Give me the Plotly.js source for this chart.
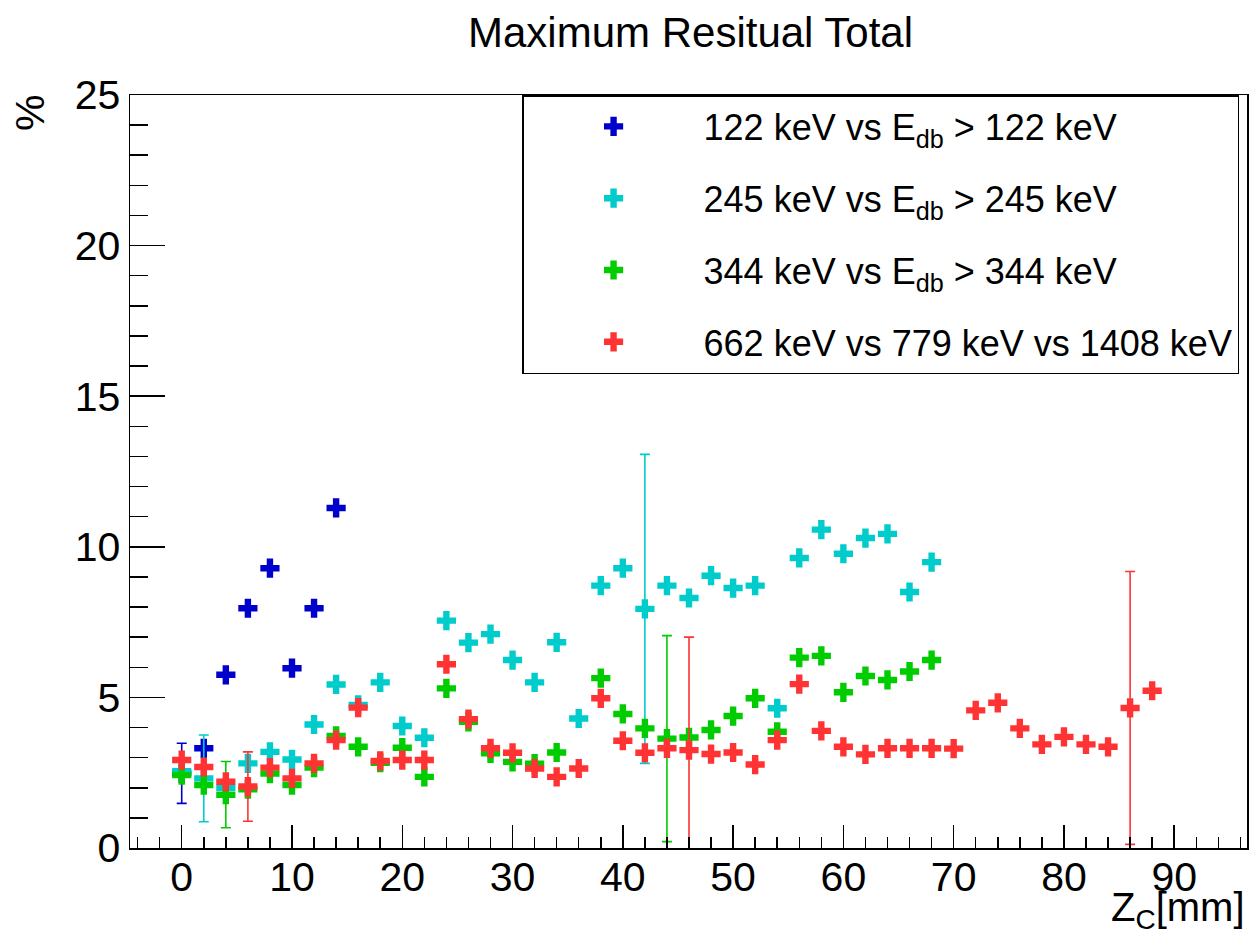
<!DOCTYPE html>
<html><head><meta charset="utf-8">
<script src="https://cdn.plot.ly/plotly-3.0.1.min.js"></script>
<style>html,body{margin:0;padding:0;background:#fff}</style>
</head><body><div id="chart" style="width:1251px;height:937px"></div>
<script>
const chartTitle = "Maximum Resitual Total";
const seriesNames = [
  "122 keV vs E<sub>db</sub> &gt; 122 keV",
  "245 keV vs E<sub>db</sub> &gt; 245 keV",
  "344 keV vs E<sub>db</sub> &gt; 344 keV",
  "662 keV vs 779 keV vs 1408 keV"
];
const seriesColors = ["#0000cc", "#00cccc", "#00cc00", "#ff3333"];

const blueX = [0, 2, 4, 6, 8, 10, 12, 14];
const blueY = [2.48, 3.31, 5.75, 7.96, 9.29, 5.97, 7.96, 11.29];
const blueErr = [1.0, 0, 0, 0, 0, 0, 0, 0];

const cyanX = [0, 2, 4, 6, 8, 10, 12, 14, 16, 18, 20, 22, 24, 26, 28, 30, 32, 34, 36, 38, 40, 42, 44, 46, 48, 50, 52, 54, 56, 58, 60, 62, 64, 66, 68];
const cyanY = [2.55, 2.31, 2.0, 2.81, 3.19, 2.94, 4.10, 5.43, 4.75, 5.50, 4.05, 3.66, 7.55, 6.82, 7.10, 6.24, 5.50, 6.83, 4.30, 8.71, 9.29, 7.94, 8.71, 8.30, 9.04, 8.63, 8.71, 4.64, 9.63, 10.57, 9.77, 10.29, 10.43, 8.50, 9.49];
const cyanErr = [0, 1.44, 0, 0, 0, 0, 0, 0, 0, 0, 0, 0, 0, 0, 0, 0, 0, 0, 0, 0, 0, 5.13, 0, 0, 0, 0, 0, 0, 0, 0, 0, 0, 0, 0, 0];

const greenX = [0, 2, 4, 6, 8, 10, 12, 14, 16, 18, 20, 22, 24, 26, 28, 30, 32, 34, 36, 38, 40, 42, 44, 46, 48, 50, 52, 54, 56, 58, 60, 62, 64, 66, 68];
const greenY = [2.42, 2.09, 1.77, 1.95, 2.47, 2.09, 2.67, 3.72, 3.36, 2.83, 3.33, 2.36, 5.30, 4.19, 3.14, 2.86, 2.80, 3.17, null, 5.64, 4.45, 3.97, 3.63, 3.67, 3.92, 4.38, 4.97, 3.86, 6.32, 6.38, 5.17, 5.71, 5.58, 5.86, 6.24];
const greenErr = [0, 0, 1.1, 0, 0, 0, 0, 0, 0, 0, 0, 0, 0, 0, 0, 0, 0, 0, 0, 0, 0, 0, 3.42, 0, 0, 0, 0, 0, 0, 0, 0, 0, 0, 0, 0];

const redX = [0, 2, 4, 6, 8, 10, 12, 14, 16, 18, 20, 22, 24, 26, 28, 30, 32, 34, 36, 38, 40, 42, 44, 46, 48, 50, 52, 54, 56, 58, 60, 62, 64, 66, 68, 70, 72, 74, 76, 78, 80, 82, 84, 86, 88];
const redY = [2.92, 2.69, 2.20, 2.04, 2.67, 2.31, 2.81, 3.58, 4.66, 2.89, 2.92, 2.92, 6.10, 4.28, 3.31, 3.16, 2.64, 2.36, 2.64, 4.97, 3.56, 3.16, 3.31, 3.25, 3.12, 3.17, 2.77, 3.58, 5.44, 3.89, 3.36, 3.11, 3.31, 3.31, 3.31, 3.30, 4.57, 4.82, 3.97, 3.44, 3.69, 3.44, 3.36, 4.65, 5.22];
const redErr = [0, 0, 0, 1.15, 0, 0, 0, 0, 0, 0, 0, 0, 0, 0, 0, 0, 0, 0, 0, 0, 0, 0, 0, 3.75, 0, 0, 0, 0, 0, 0, 0, 0, 0, 0, 0, 0, 0, 0, 0, 0, 0, 0, 0, 4.53, 0];

const xs = [blueX, cyanX, greenX, redX];
const ys = [blueY, cyanY, greenY, redY];
const errs = [blueErr, cyanErr, greenErr, redErr];

const FONT = "Liberation Sans, Arial, Helvetica, sans-serif";

const traces = ys.map((y, i) => ({
  type: "scatter",
  mode: "markers",
  x: xs[i],
  y: y,
  name: seriesNames[i],
  legendgroup: "g" + i,
  marker: {symbol: "cross", size: 16, color: seriesColors[i], line: {width: 0}},
  error_y: {type: "data", array: errs[i], visible: true, color: seriesColors[i], thickness: 1.6, width: 5},
  cliponaxis: true
}));

const layout = {
  width: 1251, height: 937,
  paper_bgcolor: "#fff", plot_bgcolor: "#fff",
  margin: {l: 130, r: 4, t: 95, b: 89},
  font: {family: FONT, color: "#000", size: 41},
  title: {text: chartTitle, font: {family: FONT, size: 42, color: "#000"},
          xref: "container", x: 0.552, xanchor: "center",
          yref: "container", y: 0.966, yanchor: "middle"},
  showlegend: true,
  legend: {
    x: 0.351, y: 1, xanchor: "left", yanchor: "top",
    bordercolor: "#000", borderwidth: 1.5, bgcolor: "#fff",
    font: {family: FONT, size: 36, color: "#000"},
    itemwidth: 170, tracegroupgap: 22, traceorder: "grouped"
  },
  xaxis: {
    range: [-4.69, 96.6], showgrid: false, zeroline: false,
    showline: true, linecolor: "#000", linewidth: 1.5, mirror: true,
    ticks: "inside", ticklen: 23, tickwidth: 1.5, tickcolor: "#000",
    tick0: 0, dtick: 10, ticklabelstandoff: -8,
    minor: {ticks: "inside", ticklen: 11, tickwidth: 1.5, tickcolor: "#000", dtick: 2, showgrid: false},
    tickfont: {family: FONT, size: 41, color: "#000"}
  },
  yaxis: {
    range: [0, 25], showgrid: false, zeroline: false,
    showline: true, linecolor: "#000", linewidth: 1.5, mirror: true,
    ticks: "inside", ticklen: 35, tickwidth: 1.5, tickcolor: "#000",
    tick0: 0, dtick: 5,
    minor: {ticks: "inside", ticklen: 18, tickwidth: 1.5, tickcolor: "#000", dtick: 1, showgrid: false},
    tickfont: {family: FONT, size: 41, color: "#000"}
  },
  annotations: [
    {text: "%", xref: "paper", yref: "paper", x: -0.0895, y: 0.976,
     xanchor: "center", yanchor: "middle", textangle: -90, showarrow: false,
     font: {family: FONT, size: 41, color: "#000"}},
    {text: "Z<sub>C</sub>[mm]", xref: "paper", yref: "paper", x: 1.0, y: -0.118,
     xanchor: "right", yanchor: "bottom", showarrow: false,
     font: {family: FONT, size: 40, color: "#000"}}
  ]
};

Plotly.newPlot("chart", traces, layout, {displayModeBar: false, staticPlot: true});
</script>
</body></html>
